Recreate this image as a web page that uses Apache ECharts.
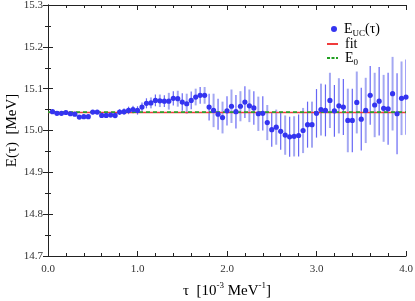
<!DOCTYPE html>
<html>
<head>
<meta charset="utf-8">
<script src="https://cdn.jsdelivr.net/npm/echarts@6/dist/echarts.min.js"></script>
<style>html,body{margin:0;padding:0;background:#fff}#c{width:415px;height:301px}</style>
</head>
<body>
<div id="c"></div>
<script>
const tau = [0.05,0.10,0.15,0.20,0.25,0.30,0.35,0.40,0.45,0.50,0.55,0.60,0.65,0.70,0.75,0.80,0.85,0.90,0.95,1.00,
1.05,1.10,1.15,1.20,1.25,1.30,1.35,1.40,1.45,1.50,1.55,1.60,1.65,1.70,1.75,1.80,1.85,1.90,1.95,2.00,
2.05,2.10,2.15,2.20,2.25,2.30,2.35,2.40,2.45,2.50,2.55,2.60,2.65,2.70,2.75,2.80,2.85,2.90,2.95,3.00,
3.05,3.10,3.15,3.20,3.25,3.30,3.35,3.40,3.45,3.50,3.55,3.60,3.65,3.70,3.75,3.80,3.85,3.90,3.95,4.00];
const energy = [15.045,15.041,15.041,15.043,15.040,15.039,15.032,15.033,15.033,15.044,15.044,15.036,15.036,15.037,15.036,15.044,15.045,15.048,15.050,15.048,
15.056,15.065,15.066,15.072,15.071,15.070,15.070,15.077,15.076,15.068,15.064,15.072,15.080,15.084,15.084,15.056,15.048,15.039,15.031,15.047,
15.058,15.045,15.058,15.068,15.059,15.054,15.040,15.041,15.019,15.002,15.008,14.998,14.989,14.985,14.986,14.988,15.000,15.014,15.014,15.041,
15.050,15.048,15.072,15.047,15.059,15.056,15.024,15.024,15.067,15.027,15.048,15.084,15.061,15.070,15.053,15.052,15.088,15.040,15.077,15.080];
const errors = [0.002,0.002,0.003,0.003,0.003,0.004,0.004,0.004,0.005,0.005,0.005,0.006,0.006,0.006,0.007,0.007,0.008,0.009,0.009,0.010,
0.011,0.012,0.013,0.014,0.015,0.014,0.020,0.017,0.019,0.021,0.024,0.021,0.020,0.020,0.020,0.032,0.040,0.037,0.038,0.035,
0.040,0.040,0.036,0.038,0.039,0.040,0.041,0.041,0.042,0.041,0.042,0.044,0.047,0.048,0.048,0.050,0.054,0.055,0.055,0.058,
0.062,0.062,0.066,0.062,0.066,0.067,0.076,0.076,0.074,0.075,0.078,0.070,0.077,0.082,0.080,0.086,0.088,0.097,0.088,0.090];
const fitValue = 15.043;
const e0Value = 15.044;
const xRange = [0, 4];
const yRange = [14.7, 15.3];
const yTickLabels = ['14.7', '14.8', '14.9', '15.0', '15.1', '15.2', '15.3'];
const yTitle = 'E(τ)  [MeV]';

const serif = 'Liberation Serif';
const points = tau.map((t, i) => [t, energy[i]]);
const bars = tau.map((t, i) => [t, energy[i] - errors[i], energy[i] + errors[i], i]);

const chart = echarts.init(document.getElementById('c'), null, {renderer: 'canvas'});
const tickStyle = {show: true, inside: true, length: 5, lineStyle: {color: '#222'}};
const minorStyle = {show: true, length: 3, lineStyle: {color: '#222'}};
const lineCol = {show: true, lineStyle: {color: '#222', width: 1}};
const legText = {
  fontFamily: serif, fontSize: 14, color: '#000', padding: [0, 0, 0, 2],
  rich: {
    a: {fontFamily: serif, fontSize: 14, color: '#000', lineHeight: 18},
    s: {fontFamily: serif, fontSize: 9, color: '#000', verticalAlign: 'bottom', lineHeight: 18}
  }
};
const dashIcon = 'path://M0,0h3v2h-3z M4.5,0h3v2h-3z M9,0h2v2h-2z';
chart.setOption({
  animation: false,
  backgroundColor: '#fff',
  grid: {left: 48, right: 9, top: 5, bottom: 45, containLabel: false, outerBoundsMode: 'none'},
  legend: [
    {data: [{name: 'Euc', icon: 'circle'}], left: 326, top: 17, itemWidth: 6, itemHeight: 6,
     formatter: () => '{a|E}{s|UC}{a|(τ)}', textStyle: legText},
    {data: [{name: 'fit', icon: 'rect', itemStyle: {color: '#f03c3c'}}], left: 322, top: 32, itemWidth: 11, itemHeight: 2,
     formatter: () => '{a|fit}', textStyle: legText},
    {data: [{name: 'E0', icon: dashIcon, itemStyle: {color: '#22a022'}}], left: 322, top: 46, itemWidth: 11, itemHeight: 2,
     formatter: () => '{a|E}{s|0}', textStyle: legText}
  ],
  xAxis: [
    {type: 'value', min: xRange[0], max: xRange[1], interval: 1, position: 'bottom',
     axisLine: lineCol, axisTick: tickStyle, minorTick: Object.assign({splitNumber: 5}, minorStyle),
     splitLine: {show: false},
     axisLabel: {fontFamily: serif, fontSize: 11, color: '#333', margin: 8, formatter: v => v.toFixed(1)},
     name: '{a|τ  [10}{s|-3}{a| MeV}{s|-1}{a|]}', nameLocation: 'middle', nameGap: 25,
     nameTextStyle: {rich: {
       a: {fontFamily: serif, fontSize: 15, color: '#000', lineHeight: 20},
       s: {fontFamily: serif, fontSize: 9, color: '#000', verticalAlign: 'top', lineHeight: 20}
     }}},
    {type: 'value', min: xRange[0], max: xRange[1], interval: 1, position: 'top',
     axisLine: lineCol, axisTick: tickStyle, minorTick: Object.assign({splitNumber: 5}, minorStyle),
     splitLine: {show: false}, axisLabel: {show: false}}
  ],
  yAxis: [
    {type: 'value', min: yRange[0], max: yRange[1], interval: 0.1, position: 'left',
     axisLine: lineCol, axisTick: tickStyle, minorTick: Object.assign({splitNumber: 2}, minorStyle),
     splitLine: {show: false}, axisLabel: {show: false}},
    {type: 'value', min: yRange[0], max: yRange[1], interval: 0.1, position: 'right',
     axisLine: lineCol, axisTick: tickStyle, minorTick: Object.assign({splitNumber: 2}, minorStyle),
     splitLine: {show: false}, axisLabel: {show: false}}
  ],
  series: [
    {type: 'custom', name: 'err', data: bars, encode: {x: 0, y: [1, 2]}, clip: true, z: 1,
     renderItem: function (params, api) {
       const x = api.value(0);
       const p1 = api.coord([x, api.value(1)]);
       const p2 = api.coord([x, api.value(2)]);
       const odd = api.value(3) % 2 === 1;
       return {type: 'line', shape: {x1: p1[0], y1: p1[1], x2: p2[0], y2: p2[1]},
         style: {stroke: odd ? '#6666f5' : '#a4a8f2', lineWidth: odd ? 1.2 : 2}};
     }},
    {type: 'line', name: 'fit', data: [[xRange[0], fitValue], [xRange[1], fitValue]], showSymbol: false,
     symbol: 'none', lineStyle: {color: '#f03c3c', width: 1.5}, itemStyle: {color: '#f03c3c'}, z: 2},
    {type: 'line', name: 'E0', data: [[xRange[0], e0Value], [xRange[1], e0Value]], showSymbol: false,
     symbol: 'none', lineStyle: {color: '#2ca02c', width: 1.8, type: [4, 3]}, itemStyle: {color: '#2ca02c'}, z: 3},
    {type: 'scatter', name: 'Euc', data: points, symbolSize: 5.2, itemStyle: {color: '#3434f0', opacity: 1}, z: 4}
  ]
});
const yLabelGraphics = yTickLabels.map(lbl => {
  const p = chart.convertToPixel({xAxisIndex: 0, yAxisIndex: 0}, [xRange[0], parseFloat(lbl)]);
  return {type: 'text', x: p[0] - 5, y: p[1],
    style: {text: lbl, fontFamily: serif, fontSize: 11, fill: '#333', align: 'right', verticalAlign: 'middle'}};
});
const mid = chart.convertToPixel({xAxisIndex: 0, yAxisIndex: 0}, [xRange[0], (yRange[0] + yRange[1]) / 2]);
yLabelGraphics.push({type: 'text', x: 12, y: mid[1], rotation: Math.PI / 2,
  style: {text: yTitle, fontFamily: serif, fontSize: 15, fill: '#000', align: 'center', verticalAlign: 'middle'}});
chart.setOption({graphic: yLabelGraphics});
</script>
</body>
</html>
